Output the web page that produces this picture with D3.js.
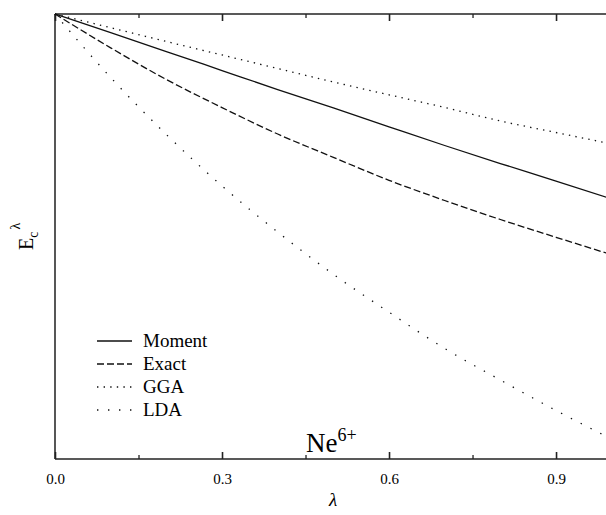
<!DOCTYPE html>
<html><head><meta charset="utf-8">
<script src="https://cdn.jsdelivr.net/npm/d3@7"></script>
<style>body{margin:0;background:#fff}svg{display:block}text{font-family:"Liberation Serif","Times New Roman",serif;fill:#000}</style>
</head><body><svg id="c" width="606" height="515"></svg>
<script>
const lambda = [0, 0.1, 0.2, 0.3, 0.4, 0.5, 0.6, 0.7, 0.8, 0.9, 1.0];
const moment = [0, -0.0420, -0.0843, -0.1270, -0.1697, -0.2112, -0.2535, -0.2955, -0.3360, -0.3753, -0.4157];
const exact  = [0, -0.0760, -0.1472, -0.2103, -0.2697, -0.3222, -0.3737, -0.4191, -0.4618, -0.5018, -0.5409];
const gga    = [0, -0.0308, -0.0618, -0.0921, -0.1225, -0.1528, -0.1816, -0.2101, -0.2404, -0.2663, -0.2921];
const lda    = [0, -0.1427, -0.2708, -0.3865, -0.4899, -0.5849, -0.6701, -0.7517, -0.8225, -0.8910, -0.9551];
const seriesNames = ["Moment", "Exact", "GGA", "LDA"];
const majorTicks = [0, 0.3, 0.6, 0.9];
const minorTicks = [0.15, 0.45, 0.75];
const tickLabels = ["0.0", "0.3", "0.6", "0.9"];

const svg = d3.select("#c");
const x = d3.scaleLinear().domain([0, 1]).range([55, 611.7]);
const y = d3.scaleLinear().domain([-1, 0]).range([459, 14]);

const styles = {
  Moment: {dash: null},
  Exact: {dash: "7,3"},
  GGA: {dash: "1.4,5.2"},
  LDA: {dash: "1.4,9.6"}
};
const dataMap = {Moment: moment, Exact: exact, GGA: gga, LDA: lda};

// frame
svg.append("line").attr("x1", x(0)).attr("x2", x(1)).attr("y1", y(-1)).attr("y2", y(-1)).attr("stroke", "#222").attr("stroke-width", 1.6);
svg.append("line").attr("x1", x(0)).attr("x2", x(1)).attr("y1", y(0)).attr("y2", y(0)).attr("stroke", "#222").attr("stroke-width", 1.6);
svg.append("line").attr("x1", x(0)).attr("x2", x(0)).attr("y1", y(0)).attr("y2", y(-1)).attr("stroke", "#444").attr("stroke-width", 1.8);

// ticks bottom (inward) and top (inward)
const bottomAxis = d3.axisBottom(x).tickValues(majorTicks).tickSize(-7).tickPadding(14).tickFormat((d, i) => tickLabels[i]);
const gB = svg.append("g").attr("transform", `translate(0,${y(-1)})`).call(bottomAxis);
gB.select(".domain").remove();
gB.selectAll(".tick line").attr("stroke", "#222").attr("stroke-width", 1.6);
gB.selectAll(".tick text").attr("font-size", 15).attr("font-family", "Liberation Serif").attr("fill", "#000").attr("dy", "0.71em");
const minorB = d3.axisBottom(x).tickValues(minorTicks).tickSize(-4).tickFormat("");
const gBm = svg.append("g").attr("transform", `translate(0,${y(-1)})`).call(minorB);
gBm.select(".domain").remove();
gBm.selectAll(".tick line").attr("stroke", "#222").attr("stroke-width", 1.3);

const topAxis = d3.axisTop(x).tickValues(majorTicks).tickSize(-7).tickFormat("");
const gT = svg.append("g").attr("transform", `translate(0,${y(0)})`).call(topAxis);
gT.select(".domain").remove();
gT.selectAll(".tick line").attr("stroke", "#222").attr("stroke-width", 1.6);
const minorT = d3.axisTop(x).tickValues(minorTicks).tickSize(-4).tickFormat("");
const gTm = svg.append("g").attr("transform", `translate(0,${y(0)})`).call(minorT);
gTm.select(".domain").remove();
gTm.selectAll(".tick line").attr("stroke", "#222").attr("stroke-width", 1.3);

// curves
const line = d3.line().x(d => x(d[0])).y(d => y(d[1])).curve(d3.curveMonotoneX);
seriesNames.forEach(name => {
  const pts = lambda.map((l, i) => [l, dataMap[name][i]]);
  svg.append("path").attr("d", line(pts)).attr("fill", "none").attr("stroke", "#111")
    .attr("stroke-width", name === "Moment" ? 1.3 : 1.3)
    .attr("stroke-dasharray", styles[name].dash);
});

// legend
const legY = [341, 364, 387, 410];
seriesNames.forEach((name, i) => {
  svg.append("line").attr("x1", 97).attr("x2", 132).attr("y1", legY[i]).attr("y2", legY[i])
    .attr("stroke", "#111").attr("stroke-width", 1.3).attr("stroke-dasharray", styles[name].dash);
  svg.append("text").attr("x", 143).attr("y", legY[i] + 6).attr("font-size", 19).text(name);
});

// annotation Ne^6+
const ne = svg.append("text").attr("x", 306).attr("y", 452).attr("font-size", 27);
ne.append("tspan").text("Ne");
ne.append("tspan").attr("font-size", 18).attr("dy", -11).text("6+");

// x label
svg.append("text").attr("x", 333).attr("y", 506).attr("text-anchor", "middle").attr("font-size", 19).attr("font-style", "italic").text("λ");

// y label
const yl = svg.append("text").attr("transform", "translate(33,250) rotate(-90)").attr("font-size", 20);
yl.append("tspan").text("E");
yl.append("tspan").attr("font-size", 14).attr("dy", 5).text("c");
yl.append("tspan").attr("font-size", 14).attr("dy", -18).attr("dx", 2).text("λ");
</script>
</body></html>
